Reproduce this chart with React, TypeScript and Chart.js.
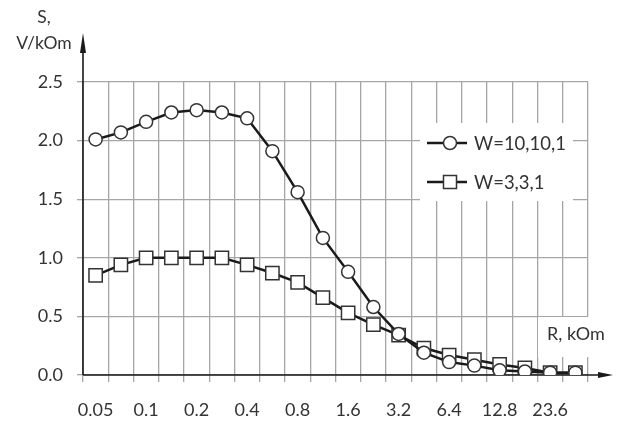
import React, { useEffect, useRef } from "react";
import { Chart, registerables } from "chart.js";

Chart.register(...registerables);

const categories = [
  "0.05", "0.07", "0.1", "0.14", "0.2", "0.28", "0.4", "0.56", "0.8", "1.1",
  "1.6", "2.3", "3.2", "4.5", "6.4", "9.0", "12.8", "18", "23.6", "33",
];
const tickLabels = [
  "0.05", "", "0.1", "", "0.2", "", "0.4", "", "0.8", "",
  "1.6", "", "3.2", "", "6.4", "", "12.8", "", "23.6", "",
];
const seriesW10 = [
  2.01, 2.07, 2.16, 2.24, 2.26, 2.24, 2.19, 1.91, 1.56, 1.17,
  0.88, 0.58, 0.35, 0.19, 0.11, 0.08, 0.04, 0.03, 0.02, 0.02,
];
const seriesW3 = [
  0.85, 0.94, 1.0, 1.0, 1.0, 1.0, 0.94, 0.87, 0.79, 0.66,
  0.53, 0.43, 0.34, 0.23, 0.17, 0.13, 0.09, 0.06, 0.02, 0.02,
];
const legendLabels = ["W=10,10,1", "W=3,3,1"];
const yTitle = ["S,", "V/kOm"];
const xTitle = "R, kOm";

const FONT = "Lato, 'Open Sans', sans-serif";
const TEXT = "#333333";
const GRID = "#a6a6a6";
const LINE = "#1a1a1a";

export default function App() {
  const ref = useRef<HTMLCanvasElement | null>(null);

  useEffect(() => {
    document.body.style.margin = "0";
    const canvas = ref.current;
    if (!canvas) return;

    const decor = {
      id: "decor",
      beforeDatasetsDraw(chart: any) {
        const { ctx, chartArea } = chart;
        const { left, bottom } = chartArea;
        ctx.save();
        // white boxes (legend + x title)
        ctx.fillStyle = "#ffffff";
        ctx.fillRect(420, 123, 153, 78);
        ctx.fillRect(538, 317, 56, 40);
        // axes
        ctx.strokeStyle = LINE;
        ctx.lineWidth = 1.6;
        ctx.beginPath();
        ctx.moveTo(left, bottom);
        ctx.lineTo(left, 40);
        ctx.moveTo(left, bottom);
        ctx.lineTo(606, bottom);
        ctx.stroke();
        ctx.fillStyle = LINE;
        ctx.beginPath();
        ctx.moveTo(left, 33);
        ctx.lineTo(left - 3, 53);
        ctx.lineTo(left + 3, 53);
        ctx.closePath();
        ctx.fill();
        ctx.beginPath();
        ctx.moveTo(613, bottom);
        ctx.lineTo(598, bottom - 3);
        ctx.lineTo(598, bottom + 3);
        ctx.closePath();
        ctx.fill();
        // titles
        ctx.fillStyle = TEXT;
        ctx.font = "17.5px " + FONT;
        ctx.textAlign = "center";
        ctx.textBaseline = "middle";
        ctx.fillText(yTitle[0], 44, 17);
        ctx.fillText(yTitle[1], 44, 43);
        ctx.textAlign = "left";
        ctx.font = "18px " + FONT;
        ctx.fillText(xTitle, 547, 334);
        // legend
        const rows = [143, 182];
        rows.forEach((y, i) => {
          ctx.strokeStyle = LINE;
          ctx.lineWidth = 2.5;
          ctx.beginPath();
          ctx.moveTo(427, y);
          ctx.lineTo(467, y);
          ctx.stroke();
          ctx.fillStyle = "#ffffff";
          ctx.strokeStyle = "#333333";
          ctx.lineWidth = 1.5;
          ctx.beginPath();
          if (i === 0) ctx.arc(450, y, 6.5, 0, Math.PI * 2);
          else ctx.rect(443.5, y - 6.5, 13, 13);
          ctx.fill();
          ctx.stroke();
          ctx.fillStyle = TEXT;
          ctx.textAlign = "left";
          ctx.textBaseline = "middle";
          ctx.font = "18.5px " + FONT;
          ctx.fillText(legendLabels[i], 474, y + 1);
        });
        ctx.restore();
      },
    };

    const chart = new Chart(canvas, {
      type: "line",
      data: {
        labels: categories,
        datasets: [
          {
            label: legendLabels[0],
            data: seriesW10,
            borderColor: LINE,
            borderWidth: 2.5,
            pointStyle: "circle",
            pointRadius: 6.5,
            pointBackgroundColor: "#ffffff",
            pointBorderColor: "#333333",
            pointBorderWidth: 1.5,
            tension: 0,
          },
          {
            label: legendLabels[1],
            data: seriesW3,
            borderColor: LINE,
            borderWidth: 2.5,
            pointStyle: "rect",
            pointRadius: 9.4,
            pointBackgroundColor: "#ffffff",
            pointBorderColor: "#333333",
            pointBorderWidth: 1.5,
            tension: 0,
          },
        ],
      },
      options: {
        responsive: false,
        animation: false,
        layout: { padding: { left: 0, top: 82, right: 37, bottom: 0 } },
        plugins: {
          legend: { display: false },
          tooltip: { enabled: false },
        },
        scales: {
          x: {
            type: "category",
            offset: true,
            grid: {
              offset: true,
              color: GRID,
              lineWidth: 1.3,
              tickLength: 7,
            },
            border: { display: false },
            ticks: {
              autoSkip: false,
              maxRotation: 0,
              padding: 17,
              color: TEXT,
              font: { family: FONT, size: 18 },
              callback: (_v: any, i: number) => tickLabels[i],
            },
            afterFit: (s: any) => {
              s.height = 46;
            },
          },
          y: {
            min: 0,
            max: 2.5,
            grid: { color: GRID, lineWidth: 1.3, tickLength: 6 },
            border: { display: false },
            ticks: {
              stepSize: 0.5,
              padding: 14,
              color: TEXT,
              font: { family: FONT, size: 18 },
              callback: (v: any) => Number(v).toFixed(1),
            },
            afterFit: (s: any) => {
              s.width = 83;
            },
          },
        },
      },
      plugins: [decor],
    });
    return () => chart.destroy();
  }, []);

  return (
    <div style={{ width: 625, height: 421, background: "#ffffff" }}>
      <canvas ref={ref} width={625} height={421} />
    </div>
  );
}
